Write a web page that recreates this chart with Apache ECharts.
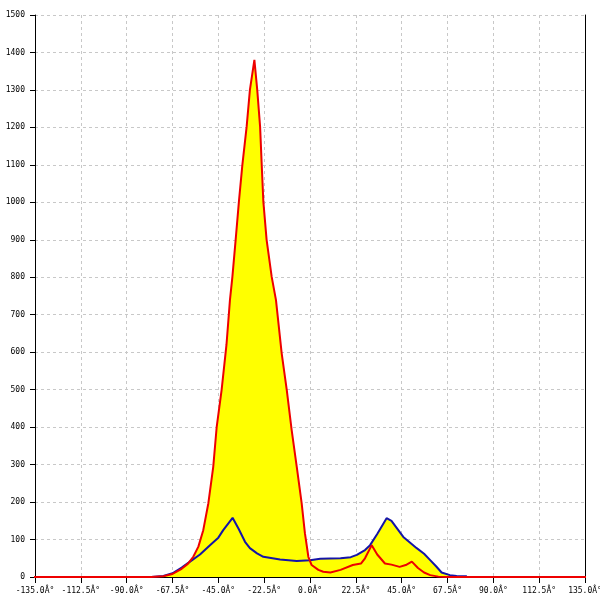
<!DOCTYPE html>
<html>
<head>
<meta charset="utf-8">
<script src="https://cdn.jsdelivr.net/npm/echarts@6/dist/echarts.min.js"></script>
<style>html,body{margin:0;padding:0;background:#fff}#c{width:600px;height:600px}</style>
</head>
<body>
<div id="c"></div>
<script>
var redAngles = [-180,-78,-72,-67.5,-63,-60,-57.3,-54.8,-52.4,-49.9,-47.5,-45.8,-43.4,-41,-39.3,-38.1,-36.5,-34.9,-33.2,-31.1,-29.5,-27.3,-25.9,-24.5,-23.7,-22.9,-21.3,-18.8,-16.7,-13.9,-11.4,-9,-6.5,-4.1,-2.5,-0.8,0.8,4.1,6.5,10,15,21,25,27,30.3,33,36.8,40,44,47,50,53,56,59,63,67,180];
var redValues = [0,0,2,8,22,35,54,81,125,197,294,401,499,620,739,801,900,1002,1100,1202,1300,1380,1300,1202,1100,1002,900,801,739,597,499,392,294,197,117,54,32,19,14,12,19,32,36,50,85,60,36,33,27,32,41,24,12,5,1,0,0];
var blueAngles = [-78,-72,-67.5,-63,-58.9,-54,-49.1,-45,-42.6,-38,-35,-31.9,-29.5,-26,-22.9,-14.7,-6.5,0,5,15,20,23,27,29.5,33,37.6,40,45.8,52.4,56,59,62,64.6,68.7,72,77];
var blueValues = [0,3,10,25,41,60,85,105,125,158,128,94,77,63,54,47,43,45,49,50,53,59,72,85,115,157,150,107,77,62,45,28,12,5,3,2];
var xTicks = {min:-135, max:135, step:22.5};
var yTicks = {min:0, max:1500, step:100};

function pairs(a, v){ return a.map(function(x,i){ return [x, v[i]]; }); }
var redData = pairs(redAngles, redValues);
var blueData = pairs(blueAngles, blueValues);

var font = {fontFamily:'DejaVu Sans Mono', fontSize:8, color:'#000'};
var chart = echarts.init(document.getElementById('c'));
chart.setOption({
  animation:false,
  backgroundColor:'#fff',
  grid:{left:35, right:15, top:15, bottom:23, containLabel:false, outerBoundsMode:'none'},
  xAxis:{type:'value', min:xTicks.min, max:xTicks.max, interval:xTicks.step,
    axisLine:{onZero:false, lineStyle:{color:'#000', width:1}},
    axisTick:{show:true, length:6, lineStyle:{color:'#000'}},
    axisLabel:Object.assign({margin:10, hideOverlap:false, showMinLabel:true, showMaxLabel:true, formatter:function(v){return v.toFixed(1)+'Â°';}}, font),
    splitLine:{show:true, lineStyle:{color:'#c8c8c8', type:[3,3]}}},
  yAxis:[{type:'value', min:yTicks.min, max:yTicks.max, interval:yTicks.step,
    axisLine:{show:true, onZero:false, lineStyle:{color:'#000', width:1}},
    axisTick:{show:true, length:5, lineStyle:{color:'#000'}},
    axisLabel:Object.assign({margin:10, formatter:function(v){return String(v);}}, font),
    splitLine:{show:true, lineStyle:{color:'#c8c8c8', type:[3,3]}}},
    {type:'value', position:'right', min:yTicks.min, max:yTicks.max, interval:yTicks.step,
    axisLine:{show:true, onZero:false, lineStyle:{color:'#000', width:1}},
    axisTick:{show:false}, axisLabel:{show:false}, splitLine:{show:false}}],
  series:[
    {type:'line', data:blueData, symbol:'none', lineStyle:{width:0}, areaStyle:{color:'#ffff00', opacity:1}, z:2},
    {type:'line', data:redData, symbol:'none', lineStyle:{width:0}, areaStyle:{color:'#ffff00', opacity:1}, z:2},
    {type:'line', data:blueData, symbol:'none', lineStyle:{width:2, color:'#1414a8'}, z:3},
    {type:'line', data:redData, symbol:'none', clip:false, lineStyle:{width:2, color:'#ee0000'}, z:4}
  ]
});
</script>
</body>
</html>
